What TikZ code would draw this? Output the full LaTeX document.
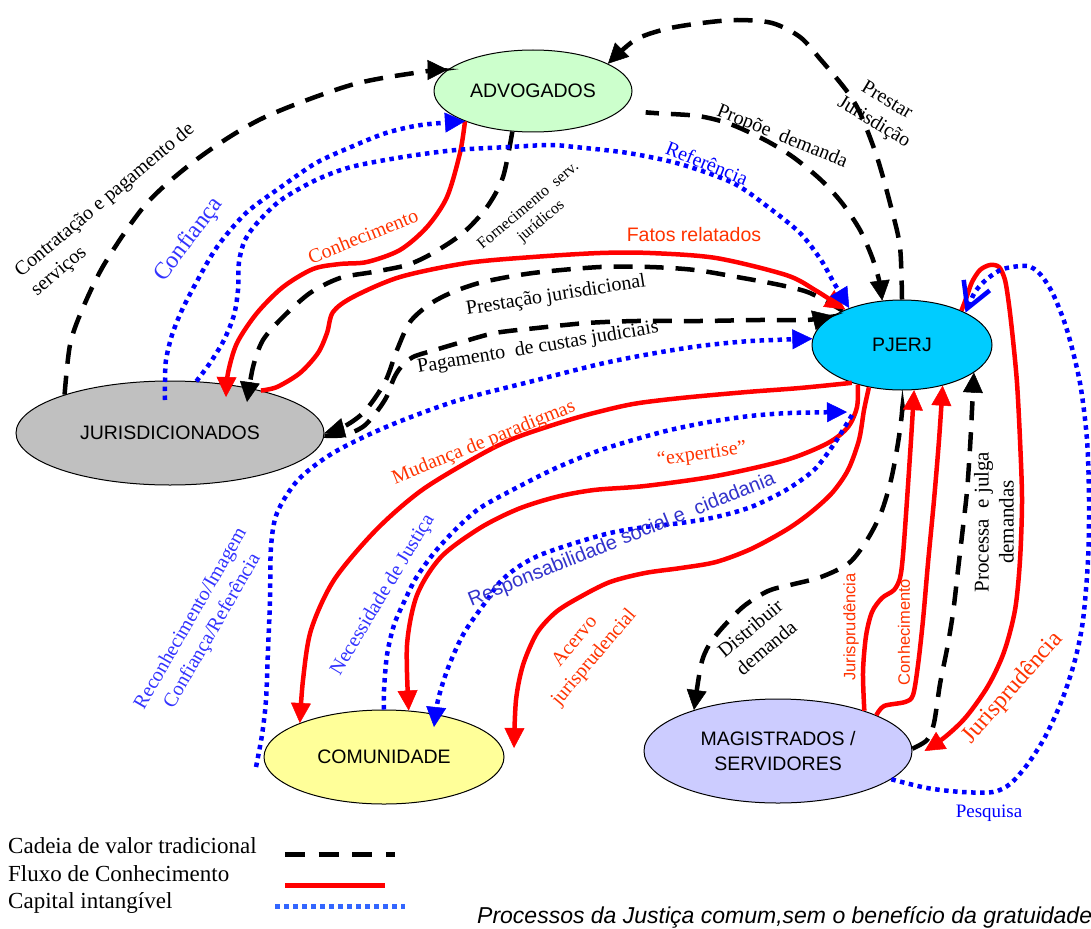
\documentclass[tikz,border=0pt]{standalone}
\usepackage{fontspec}
\setmainfont{Liberation Serif}
\setsansfont{Liberation Sans}
\usetikzlibrary{arrows.meta,shapes.geometric,calc}
\definecolor{advfill}{HTML}{CCFFCC}
\definecolor{pjfill}{HTML}{00CCFF}
\definecolor{jurfill}{HTML}{C0C0C0}
\definecolor{comfill}{HTML}{FFFF99}
\definecolor{magfill}{HTML}{CCCCFF}
\definecolor{redtext}{HTML}{FF3300}
\definecolor{bluetext}{HTML}{3333FF}
\definecolor{respblue}{HTML}{3333CC}
\definecolor{capblue}{HTML}{0000FF}
\definecolor{legblue}{HTML}{3366FF}
\newcommand{\fsz}[2]{\fontsize{#1}{#2}\selectfont}
\begin{document}
\begin{tikzpicture}[x=1pt,y=-1pt,
  ell/.style={ellipse, draw=black, line width=1pt, inner sep=0pt, align=center, font=\sffamily\fsz{19.5}{25}},
  cadeia/.style={line width=4.5pt, dash pattern=on 19pt off 12pt, black},
  fluxo/.style={line width=4.5pt, red},
  capital/.style={line width=4.5pt, dash pattern=on 4.5pt off 4.5pt, capblue},
  tri/.style={-{Triangle[length=20pt,width=20pt,line width=0.5pt]}},
  barb/.style={-{Straight Barb[length=25pt,width=28pt]}},
  lb/.style={inner sep=0pt, align=center, font=\rmfamily\fsz{20}{25}},
  lbs/.style={inner sep=0pt, align=center, font=\sffamily\fsz{19.5}{24}},
  redt/.style={text=redtext},
  bluet/.style={text=bluetext},
  lgd/.style={inner sep=0pt, anchor=west, font=\rmfamily\fsz{23}{28}}
]
\useasboundingbox (0,0) rectangle (1091,928);
\fill[white] (0,0) rectangle (1091,928);

% nodes
\node[ell, fill=advfill, minimum width=198pt, minimum height=82pt] (adv) at (533,91) {ADVOGADOS};
\node[ell, fill=pjfill, minimum width=180pt, minimum height=90pt] (pj) at (902,345) {PJERJ};
\node[ell, fill=jurfill, minimum width=308pt, minimum height=104pt] (jur) at (170,433) {JURISDICIONADOS};
\node[ell, fill=comfill, minimum width=240pt, minimum height=94pt] (com) at (384,757) {COMUNIDADE};
\node[ell, fill=magfill, minimum width=268pt, minimum height=104pt] (mag) at (778,751) {MAGISTRADOS /\\SERVIDORES};

% helper coordinates
\coordinate (jA) at ($(jur)+(77,-31)$);
\coordinate (jB) at ($(jur)+(56,-36)$);
\coordinate (jC) at ($(jur)+(-5,-33)$);
\coordinate (pA) at ($(pj)+(-55,67)$);
\coordinate (pB) at ($(pj)+(-50,70)$);
\coordinate (cA) at ($(com)+(50,-30)$);
\coordinate (mA) at ($(mag.0)+(12,0)$);
\coordinate (acv) at (514,748);
\coordinate (rec) at (256,767);

% Cadeia de valor tradicional
\draw[cadeia,tri] plot[smooth] coordinates {(jur.160) (70,345) (82,310) (105,263) (147,203) (200,157) (263,118) (351,85) (421,72) (adv.166)};
\draw[cadeia,tri] plot[smooth] coordinates {(pj.90) (900,247) (891,207) (877,157) (860,113) (846,90) (821,60) (800,37) (772,23) (737,20) (702,23) (666,29) (635,40) (adv.20)};
\draw[cadeia,tri,shorten <=30pt] plot[smooth] coordinates {(adv.-12) (654,113) (698,116) (730,124) (765,140) (793,157) (821,180) (842,203) (860,230) (872,257) (879,280) (pj.114)};
\draw[cadeia,tri] plot[smooth] coordinates {(adv.243) (503,177) (487,207) (463,233) (433,253) (407,265) (373,272) (340,278) (310,293) (283,317) (263,340) (253,367) (jA)};
\draw[cadeia,tri] plot[smooth] coordinates {(pj.150) (810,293) (780,285) (737,277) (695,270) (650,267) (600,267) (533,273) (483,282) (453,292) (430,304) (410,322) (397,350) (385,382) (365,411) (345,426) (jur.0)};
\draw[cadeia,tri] plot[smooth] coordinates {(jur.-1) (345,435) (364,426) (378,410) (387,396) (394,378) (401,367) (413,357) (435,350) (462,342) (495,333) (537,328) (587,323) (637,321) (700,321) (760,320) (807,320) (pj.157)};
\draw[cadeia,tri,shorten <=20pt] plot[smooth] coordinates {(pj.270) (902,412) (898,443) (891,480) (881,513) (867,540) (849,563) (821,577) (790,585) (768,591) (744,606) (723,627) (709,645) (701,665) (mag.154)};
\draw[cadeia,tri] plot[smooth] coordinates {(mag.1) (927,740) (934,723) (940,684) (947,649) (953,613) (958,570) (963,527) (967,491) (970,448) (972,410) (pj.-21)};

% Fluxo de Conhecimento
\draw[fluxo,tri] plot[smooth] coordinates {(adv.204) (460,153) (447,197) (427,227) (400,250) (367,262) (340,264) (313,269) (283,287) (257,313) (237,343) (228,373) (jB)};
\draw[fluxo,tri] plot[smooth] coordinates {(jur.25) (277,387) (300,373) (318,353) (327,333) (333,312) (353,297) (400,277) (467,263) (533,257) (600,253) (650,253) (716,258) (786,275) (815,290) (pj.148)};
\draw[fluxo,tri] plot[smooth] coordinates {(pj.217) (800,388) (747,392) (681,398) (633,404) (590,414) (556,424) (515,438) (480,455) (422,490) (376,530) (334,580) (311,630) (303,680) (com.158)};
\draw[fluxo,tri] plot[smooth] coordinates {(pj.222) (857,407) (848,427) (828,443) (786,460) (716,476) (645,486) (594,490) (556,497) (518,509) (480,528) (441,557) (417,595) (407,645) (com.62)};
\draw[fluxo,tri] plot[smooth] coordinates {(pj.232) (864,410) (859,440) (848,470) (832,493) (810,513) (786,530) (751,549) (716,562) (681,568) (645,573) (610,582) (580,597) (556,612) (537,633) (523,665) (516,700) (acv)};
\draw[fluxo,tri] plot[smooth] coordinates {(mag.25) (863,672) (866,636) (872,612) (882,598) (894,590) (900,578) (903,555) (907,500) (911,440) (pj.-75)};
\draw[fluxo,tri] plot[smooth] coordinates {(mag.20) (884,706) (905,702) (913,695) (918,665) (923,620) (928,563) (934,500) (939,440) (pj.-45)};
\draw[fluxo,tri] plot[smooth] coordinates {(pj.30) (967,296) (972,282) (980,270) (990,265) (999,267) (1005,280) (1009,305) (1013,340) (1017,383) (1020,440) (1022,500) (1020,560) (1015,610) (1004,652) (988,686) (966,717) (945,737) (mA)};

% Capital intangivel
\draw[capital,tri] plot[smooth] coordinates {(jC) (165,381) (166,360) (172,335) (182,310) (196,283) (217,247) (246,213) (281,187) (316,163) (351,147) (386,133) (421,125) (adv.204)};
\draw[capital,tri] plot[smooth] coordinates {(jur.63) (210,363) (224,340) (234,315) (238,290) (239,262) (245,240) (258,222) (281,200) (316,180) (351,167) (403,157) (456,150) (509,147) (550,145) (575,147) (628,153) (680,164) (733,183) (768,207) (800,233) (821,260) (834,283) (pj.145)};
\draw[capital,tri] plot[smooth] coordinates {(rec) (262,735) (266,700) (268,650) (270,600) (271,547) (277,513) (298,480) (333,453) (386,427) (456,401) (533,381) (600,364) (650,354) (700,346) (751,341) (pj.176)};
\draw[capital,tri] plot[smooth] coordinates {(com.90) (384,690) (387,655) (394,625) (404,602) (416,578) (434,553) (455,530) (480,508) (518,487) (556,468) (595,452) (633,440) (670,430) (709,422) (750,416) (790,413) (pA)};
\draw[capital,tri] plot[smooth] coordinates {(pB) (843,430) (832,447) (814,470) (786,490) (751,507) (716,517) (681,523) (645,527) (610,533) (575,543) (540,555) (518,567) (500,582) (487,600) (464,633) (448,668) (438,700) (cA)};
\draw[capital,barb] plot[smooth] coordinates {(mag.-14) (927,788) (962,792) (993,792) (1010,784) (1027,765) (1045,737) (1062,700) (1075,660) (1083,620) (1088,560) (1089,500) (1087,440) (1080,383) (1067,330) (1053,294) (1040,274) (1027,266) (1003,269) (987,279) (975,292) (pj.27)};

% labels
\node[lb, align=left, rotate=40] (t1) at (113,210) {Contratação e pagamento de\\serviços};
\node[lb, bluet, font=\rmfamily\fsz{24}{28}, rotate=53] (t2) at (189,240) {Confiança};
\node[lb, redt, rotate=22] (t3) at (363,236) {Conhecimento};
\node[lb, font=\rmfamily\fsz{16}{20}, rotate=40] (t4) at (535,214) {Fornecimento\ \ serv.\\jurídicos};
\node[lbs, redt] (t5) at (694,235) {Fatos relatados};
\node[lb, text=capblue, rotate=-22] (t6) at (707,163) {Referência};
\node[lb, rotate=-22] (t7) at (782,137) {Propõe\ \ demanda};
\node[lb, rotate=-31] (t8) at (880,112) {Prestar\\Jurisdição};
\node[lb, rotate=9] (t9) at (556,296) {Prestação jurisdicional};
\node[lb, rotate=9.5] (t10) at (538,348) {Pagamento\ \ de custas judiciais};
\node[lb, redt, rotate=22] (t11) at (484,443) {Mudança de paradigmas};
\node[lb, redt, rotate=8] (t12) at (702,455) {“expertise”};
\node[lb, bluet, rotate=59] (t13) at (383,595) {Necessidade de Justiça};
\node[lbs, text=respblue, font=\sffamily\fsz{20}{24}, rotate=22] (t14) at (622,540) {Responsabilidade social e\ \ cidadania};
\node[lb, redt, rotate=50] (t15) at (585,650) {Acervo\\jurisprudencial};
\node[lb, rotate=40] (t16) at (758,638) {Distribuir\\demanda};
\node[lbs, redt, font=\sffamily\fsz{16.5}{20}, rotate=90] (t17) at (851,627) {Jurisprudência};
\node[lbs, redt, font=\sffamily\fsz{16.5}{20}, rotate=90] (t18) at (904,632) {Conhecimento};
\node[lb, font=\rmfamily\fsz{21}{25}, rotate=90] (t19) at (994,522) {Processa\ \ e julga\\demandas};
\node[lb, redt, font=\rmfamily\fsz{24}{28}, rotate=49] (t20) at (1013,688) {Jurisprudência};
\node[lb, text=capblue, font=\rmfamily\fsz{19}{23}] (t21) at (989,813) {Pesquisa};
\node[lb, bluet, rotate=60] (t22) at (202,625) {Reconhecimento/Imagem\\Confiança/Referência};

% legend
\node[lgd] (l1) at (8,846) {Cadeia de valor tradicional};
\node[lgd] (l2) at (8,874) {Fluxo de Conhecimento};
\node[lgd] (l3) at (8,903) {Capital intangível};
\coordinate (k1a) at (285,854); \coordinate (k1b) at (395,854);
\coordinate (k2a) at (285,885); \coordinate (k2b) at (385,885);
\coordinate (k3a) at (275,906); \coordinate (k3b) at (405,906);
\draw[cadeia, line width=5pt, dash pattern=on 20pt off 13.6pt] (k1a) -- (k1b);
\draw[fluxo, line width=5pt] (k2a) -- (k2b);
\draw[capital, draw=legblue, line width=5pt] (k3a) -- (k3b);
\node[inner sep=0pt, anchor=west, font=\sffamily\itshape\fsz{23}{28}] (cap) at (477,917) {Processos da Justiça comum,sem o benefício da gratuidade};
\end{tikzpicture}
\end{document}
